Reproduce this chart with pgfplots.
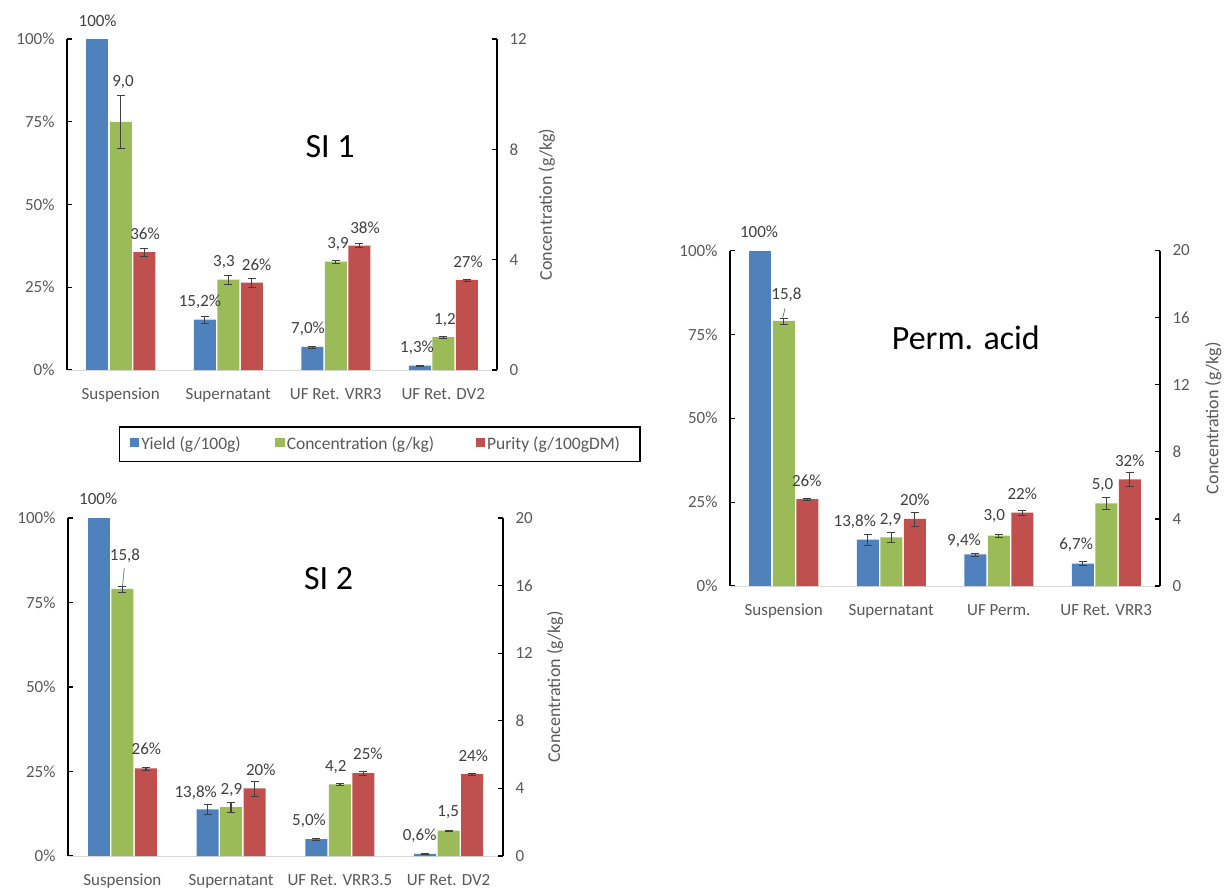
\documentclass[border=0pt]{standalone}
\usepackage{pgfplots}
\pgfplotsset{compat=1.18}
\usepackage{pgfplotstable}
\usepackage{fontspec}
\setmainfont{Carlito}
\definecolor{cBlue}{HTML}{4F81BD}
\definecolor{cGreen}{HTML}{9BBB59}
\definecolor{cRed}{HTML}{C0504D}
\definecolor{tgray}{HTML}{595959}
\definecolor{egray}{HTML}{404040}
\definecolor{lgray}{HTML}{D9D9D9}

\newcommand{\fsm}{\fontsize{17}{20}\selectfont}

% ---------------- SI 1 ----------------
\pgfplotstableread{
x y e
1 15.2 1.05
2 7.0 0.3
3 1.3 0.2
}\SIaY
\pgfplotstableread{
x y e
0 9.0 0.95
1 3.28 0.16
2 3.93 0.06
3 1.19 0.04
}\SIaC
\pgfplotstableread{
x y e
0 35.6 1.1
1 26.4 1.25
2 37.6 0.6
3 27.2 0.35
}\SIaP
\pgfplotstableread{
x y lab
-0.215 105.5 100\%
0.021 87.0 9,0
0.226 41.1 36\%
0.737 20.5 15,2\%
0.960 32.6 3,3
1.264 31.7 26\%
1.742 12.4 7,0\%
2.021 38.1 3,9
2.272 42.9 38\%
2.756 6.6 1,3\%
3.016 15.1 1,2
3.230 32.6 27\%
}\SIaL

% ---------------- SI 2 ----------------
\pgfplotstableread{
x y e
1 13.8 1.5
2 5.0 0.2
3 0.6 0.1
}\SIbY
\pgfplotstableread{
x y e
0 15.8 0.17
1 2.9 0.31
2 4.24 0.06
3 1.5 0.03
}\SIbC
\pgfplotstableread{
x y e
0 25.9 0.4
1 20.0 2.2
2 24.5 0.5
3 24.2 0.2
}\SIbP
\pgfplotstableread{
x y lab
-0.222 105.6 100\%
0.024 88.8 15,8
0.221 31.6 26\%
0.674 18.6 13,8\%
1.003 19.5 2,9
1.272 25.4 20\%
1.716 10.4 5,0\%
1.962 26.2 4,2
2.258 30.2 25\%
2.733 5.9 0,6\%
2.996 12.9 1,5
3.226 29.6 24\%
}\SIbL

% ---------------- Perm. acid ----------------
\pgfplotstableread{
x y e
1 13.8 1.5
2 9.4 0.5
3 6.7 0.6
}\PAY
\pgfplotstableread{
x y e
0 15.8 0.17
1 2.9 0.3
2 3.0 0.08
3 4.93 0.35
}\PAC
\pgfplotstableread{
x y e
0 25.9 0.3
1 20.0 2.1
2 21.9 0.7
3 31.8 2.1
}\PAP
\pgfplotstableread{
x y lab
-0.230 105.6 100\%
0.025 86.7 15,8
0.214 31.4 26\%
0.661 19.2 13,8\%
0.993 19.7 2,9
1.220 25.6 20\%
1.677 13.5 9,4\%
1.959 20.7 3,0
2.219 27.4 22\%
2.720 12.2 6,7\%
2.965 30.1 5,0
3.219 37.3 32\%
}\PAL

\pgfplotsset{
  base/.style={scale only axis, xmin=-0.5, xmax=3.5, ymin=0, clip=false,
    tick align=inside, major tick length=5pt,
    tick label style={font=\fsm, text=tgray},
    ytick style={black, line width=1.2pt}},
  leftax/.style={base, axis y line*=left, axis x line*=bottom, ymax=100,
    ytick={0,25,50,75,100}, yticklabels={0\%,25\%,50\%,75\%,100\%},
    xtick={0,1,2,3}, xtick style={draw=none},
    x axis line style={lgray, line width=1pt},
    y axis line style={black, line width=1.4pt},
    yticklabel style={xshift=-9pt},
    xticklabel style={anchor=base, yshift=-29pt}},
  rightax/.style={base, axis y line*=right, axis x line=none,
    y axis line style={black, line width=1.4pt},
    yticklabel style={xshift=9pt},
    ylabel={Concentration (g/kg)}},
  hiddenax/.style={scale only axis, xmin=-0.5, xmax=3.5, ymin=0, ymax=100, hide axis, clip=false},
  yb/.style={ybar, bar width=22pt, bar shift=0pt, draw=none, fill=#1},
  eb/.style={error bars/y dir=both, error bars/y explicit,
    error bars/error bar style={egray, line width=1.3pt, mark size=4pt}},
  labs/.style={draw=none, mark=none, nodes near coords, point meta=explicit symbolic,
    every node near coord/.append style={anchor=center, font=\fsm, text=egray}},
}

\begin{document}
\begin{tikzpicture}
\useasboundingbox (0,0) rectangle (1231pt,-887pt);

% ===== SI 1 =====
\begin{axis}[leftax, at={(67pt,-370pt)}, anchor=south west, width=430pt, height=331pt,
  xticklabels={Suspension, Supernatant, UF Ret. VRR3, UF Ret. DV2},
  legend columns=3,
  legend style={at={(axis description cs:0.727,-0.224)}, anchor=center, draw=black, line width=1.3pt,
    font=\fontsize{17.5}{20}\selectfont, text=tgray, inner xsep=11pt, inner ysep=8pt,
    /tikz/every even column/.append style={column sep=30pt}}]
\addplot[yb=cBlue, forget plot] coordinates {(-0.2186,100)};
\addplot[yb=cBlue, forget plot, eb] table[x expr=\thisrow{x}-0.2186,y=y,y error=e] {\SIaY};
\addplot[yb=cRed, forget plot, eb] table[x expr=\thisrow{x}+0.2186,y=y,y error=e] {\SIaP};
\addlegendimage{legend image code/.code={\fill[cBlue] (0pt,-2pt) rectangle (8pt,6pt);}}
\addlegendentry{\makebox[102pt][l]{Yield (g/100g)}}
\addlegendimage{legend image code/.code={\fill[cGreen] (0pt,-2pt) rectangle (8pt,6pt);}}
\addlegendentry{\makebox[157pt][l]{Concentration (g/kg)}}
\addlegendimage{legend image code/.code={\fill[cRed] (0pt,-2pt) rectangle (8pt,6pt);}}
\addlegendentry{\makebox[140pt][l]{Purity (g/100gDM)}}
\end{axis}
\begin{axis}[rightax, at={(67pt,-370pt)}, anchor=south west, width=430pt, height=331pt,
  ymax=12, ytick={0,4,8,12}, yticklabels={0,4,8,12},
  every axis y label/.style={at={(axis description cs:1.116,0.5)}, rotate=90, anchor=center,
    font=\fontsize{18}{21}\selectfont, text=tgray}]
\addplot[yb=cGreen, eb] table[x=x,y=y,y error=e] {\SIaC};
\end{axis}
\begin{axis}[hiddenax, at={(67pt,-370pt)}, anchor=south west, width=430pt, height=331pt]
\addplot[labs] table[x=x,y=y,meta=lab] {\SIaL};
\node[font=\fontsize{34}{40}\selectfont] at (axis cs:1.947,67.5) {SI 1};
\end{axis}

% ===== SI 2 =====
\begin{axis}[leftax, at={(68pt,-856pt)}, anchor=south west, width=435pt, height=338pt,
  xticklabels={Suspension, Supernatant, UF Ret. VRR3.5, UF Ret. DV2}]
\addplot[yb=cBlue] coordinates {(-0.2161,100)};
\addplot[yb=cBlue, eb] table[x expr=\thisrow{x}-0.2161,y=y,y error=e] {\SIbY};
\addplot[yb=cRed, eb] table[x expr=\thisrow{x}+0.2161,y=y,y error=e] {\SIbP};
\end{axis}
\begin{axis}[rightax, at={(68pt,-856pt)}, anchor=south west, width=435pt, height=338pt,
  ymax=20, ytick={0,4,8,12,16,20}, yticklabels={0,4,8,12,16,20},
  every axis y label/.style={at={(axis description cs:1.12,0.5)}, rotate=90, anchor=center,
    font=\fontsize{18}{21}\selectfont, text=tgray}]
\addplot[yb=cGreen, eb] table[x=x,y=y,y error=e] {\SIbC};
\end{axis}
\begin{axis}[hiddenax, at={(68pt,-856pt)}, anchor=south west, width=435pt, height=338pt]
\addplot[labs] table[x=x,y=y,meta=lab] {\SIbL};
\draw[gray, line width=0.8pt] (axis cs:0.018,85.2) -- (axis cs:0.001,79.9);
\node[font=\fontsize{34}{40}\selectfont] at (axis cs:1.896,82.2) {SI 2};
\end{axis}

% ===== Perm. acid =====
\begin{axis}[leftax, at={(730pt,-586pt)}, anchor=south west, width=430pt, height=335.5pt,
  xticklabels={Suspension, Supernatant, UF Perm., UF Ret. VRR3}]
\addplot[yb=cBlue] coordinates {(-0.2186,100)};
\addplot[yb=cBlue, eb] table[x expr=\thisrow{x}-0.2186,y=y,y error=e] {\PAY};
\addplot[yb=cRed, eb] table[x expr=\thisrow{x}+0.2186,y=y,y error=e] {\PAP};
\end{axis}
\begin{axis}[rightax, at={(730pt,-586pt)}, anchor=south west, width=430pt, height=335.5pt,
  ymax=20, ytick={0,4,8,12,16,20}, yticklabels={0,4,8,12,16,20},
  every axis y label/.style={at={(axis description cs:1.124,0.5)}, rotate=90, anchor=center,
    font=\fontsize{18}{21}\selectfont, text=tgray}]
\addplot[yb=cGreen, eb] table[x=x,y=y,y error=e] {\PAC};
\end{axis}
\begin{axis}[hiddenax, at={(730pt,-586pt)}, anchor=south west, width=430pt, height=335.5pt]
\addplot[labs] table[x=x,y=y,meta=lab] {\PAL};
\draw[gray, line width=0.8pt] (axis cs:0.012,82.8) -- (axis cs:-0.010,79.8);
\node[font=\fontsize{34}{40}\selectfont] at (axis cs:1.694,74.1) {Perm. acid};
\end{axis}
\end{tikzpicture}
\end{document}
